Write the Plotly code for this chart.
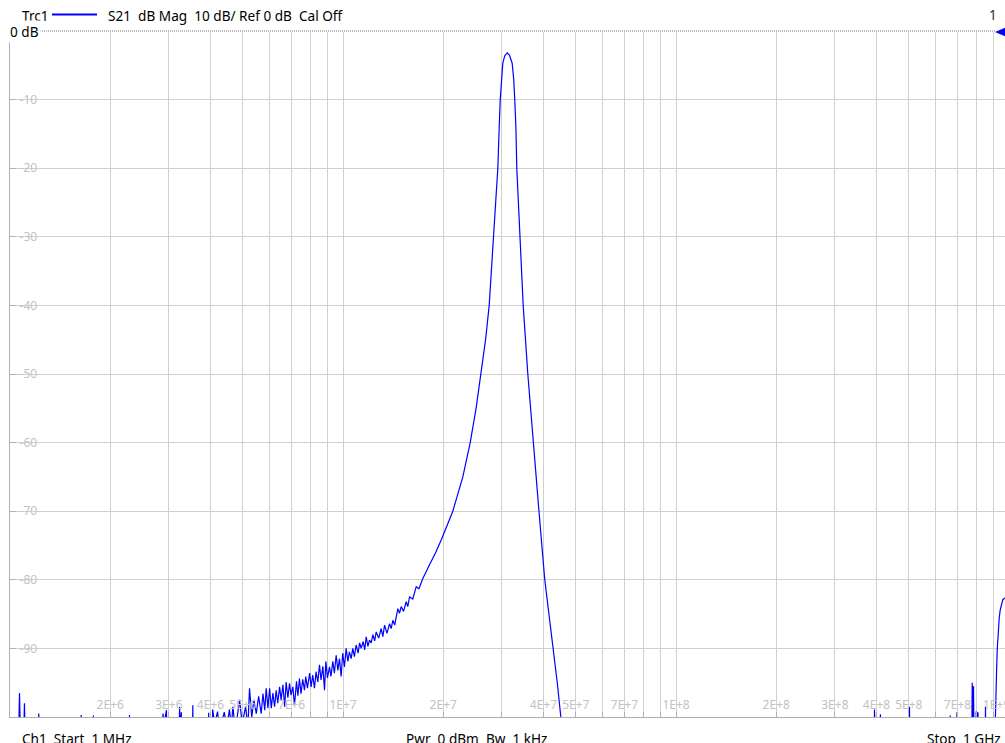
import math
import plotly.graph_objects as go

# ---------------- data ----------------
freq_mhz = [
    1.000, 1.060, 1.068, 1.076, 1.098, 1.105, 1.112, 1.215, 1.220, 1.226,
    1.630, 1.636, 1.642, 1.775, 1.780, 1.786, 2.280, 2.285, 2.291, 2.870,
    2.880, 2.900, 2.950, 2.960, 3.220, 3.230, 3.250, 3.270, 3.285, 3.530,
    3.540, 3.550, 3.940, 3.950, 3.960, 4.050, 4.060, 4.120, 4.200, 4.260,
    4.400, 4.480, 4.560, 4.620, 4.670, 4.750, 4.890, 4.980, 5.100, 5.180,
    5.240, 5.320, 5.400, 5.490, 5.580, 5.680, 5.750, 5.820,
    5.88, 5.95, 6.02, 6.09, 6.16, 6.23, 6.30, 6.37, 6.45, 6.52,
    6.60, 6.68, 6.75, 6.83, 6.91, 6.98, 7.07, 7.15, 7.25, 7.32,
    7.40, 7.48, 7.57, 7.66, 7.73, 7.82, 7.94, 8.02, 8.11, 8.21,
    8.30, 8.40, 8.50, 8.59, 8.70, 8.80, 8.88, 8.98, 9.11, 9.20,
    9.32, 9.42, 9.54, 9.65, 9.76, 9.87, 9.98, 10.10, 10.22, 10.34,
    10.45, 10.58, 10.70, 10.82, 10.95, 11.10, 11.22, 11.34, 11.50, 11.62,
    11.74, 11.88, 12.01, 12.15, 12.30, 12.45, 12.58, 12.80, 13.02, 13.17,
    13.33, 13.55, 13.80, 13.95, 14.12, 14.30, 14.45, 14.61, 14.78, 14.95,
    15.20, 15.48, 15.65, 15.84, 16.20, 16.59, 16.90, 17.37, 18.19, 19.00,
    19.72, 20.50, 21.37, 22.90, 24.10, 25.10, 26.00, 26.80, 27.48, 28.38,
    29.17, 29.45, 29.65, 30.19, 30.60, 31.12, 31.60, 32.21, 32.55, 32.80,
    33.05, 33.26, 33.96, 34.76, 35.89, 37.25, 38.77, 40.36, 42.86, 44.00,
    45.10, 45.60,
    393.0, 394.6, 396.0, 410.0, 411.0, 412.5, 501.0, 502.5, 504.0, 664.0,
    666.0, 668.0, 696.0, 698.0, 700.0, 773.0, 775.4, 778.5, 782.4, 785.0,
    795.0, 797.0, 800.0, 803.0, 807.0, 809.0, 848.0, 850.0, 852.0, 906.0,
    909.0, 912.0, 915.5, 918.0, 921.8, 925.0, 930.1, 935.0, 941.1, 950.0,
    958.1, 969.3, 1000.0,
]

s21_db = [
    -104, -104, -96.5, -104, -104, -98.0, -104, -104, -99.5, -104,
    -104, -99.7, -104, -104, -99.8, -104, -104, -99.7, -104, -104,
    -99.5, -101, -99.0, -104, -104, -98.5, -102, -99.3, -104, -104,
    -98.3, -104, -104, -99.4, -104, -104, -98.9, -101, -99.2, -102,
    -99.3, -101.5, -98.9, -101.5, -98.5, -102, -97.5, -101, -98.5, -101.5,
    -95.8, -100, -97.5, -99.5, -97.0, -99.5, -96.6, -99.0,
    -95.8, -98.7, -95.8, -98.7, -96.5, -98.5, -96.1, -98.0, -95.6, -97.5,
    -95.3, -98.5, -94.9, -97.2, -95.1, -96.8, -95.6, -98.3, -94.8, -96.9,
    -94.4, -96.6, -94.5, -96.1, -94.1, -95.8, -93.6, -95.6, -93.9, -95.8,
    -93.4, -94.9, -92.4, -94.6, -92.6, -96.1, -91.9, -94.3, -92.7, -94.1,
    -91.9, -93.6, -91.0, -93.2, -91.5, -94.1, -90.7, -92.7, -90.0, -91.9,
    -90.5, -91.5, -90.0, -91.2, -89.5, -90.7, -89.2, -90.0, -89.0, -90.2,
    -88.3, -89.7, -88.8, -89.2, -88.0, -88.9, -87.6, -88.5, -87.1, -88.3,
    -86.6, -87.8, -86.4, -87.1, -85.9, -86.6, -85.2, -84.2, -84.9, -83.9,
    -84.6, -83.2, -83.9, -82.5, -82.8, -81.0, -81.3, -79.8, -77.8, -76.0,
    -74.2, -72.3, -70.0, -65.0, -60.0, -55.0, -50.0, -45.0, -40.0, -30.0,
    -20.0, -14.0, -10.1, -4.7, -3.6, -3.2, -3.5, -4.7, -7.0, -10.1,
    -14.0, -20.0, -30.0, -40.0, -50.0, -60.0, -70.0, -80.0, -90.0, -95.0,
    -100.0, -104,
    -104, -98.9, -104, -104, -99.6, -104, -104, -98.5, -104, -104,
    -99.8, -104, -104, -99.3, -104, -104, -95.0, -100.5, -95.5, -104,
    -104, -99.2, -101, -99.5, -99.3, -104, -104, -98.5, -104, -104,
    -100.0, -99.0, -96.5, -93.0, -90.2, -88.5, -86.8, -85.5, -84.4, -83.5,
    -82.9, -82.7, -82.3,
]

x_tick_hz = [
    1e6, 2e6, 3e6, 4e6, 5e6, 6e6, 7e6, 8e6, 9e6,
    1e7, 2e7, 3e7, 4e7, 5e7, 6e7, 7e7, 8e7, 9e7,
    1e8, 2e8, 3e8, 4e8, 5e8, 6e8, 7e8, 8e8, 9e8,
]
x_tick_text = [
    "", "2E+6", "3E+6", "4E+6", "5E+6", "", "7E+6", "", "",
    "1E+7", "2E+7", "", "4E+7", "5E+7", "", "7E+7", "", "",
    "1E+8", "2E+8", "3E+8", "4E+8", "5E+8", "", "7E+8", "", "",
]
x_last_label = "1E+9"
y_tick_db = [0, -10, -20, -30, -40, -50, -60, -70, -80, -90, -100]
y_tick_text = ["", "-10", "-20", "-30", "-40", "-50", "-60", "-70", "-80", "-90", "-100"]

header_trace = "Trc1"
header_text = "S21\u00a0\u00a0dB Mag\u00a0\u00a010 dB/ Ref 0 dB\u00a0\u00a0Cal Off"
footer_left = "Ch1\u00a0\u00a0Start\u00a0\u00a01 MHz"
footer_mid = "Pwr\u00a0\u00a00 dBm\u00a0\u00a0Bw\u00a0\u00a01 kHz"
footer_right = "Stop\u00a0\u00a01 GHz"

# ---------------- layout geometry ----------------
W, H = 1005, 743
ML, MR, MT, MB = 10, 0, 31, 26
PW = W - ML - MR
PH = H - MT - MB
PX_PER_DECADE = 333.0
X_RANGE = [6.0, 6.0 + PW / PX_PER_DECADE]

def px_x(px):
    return (px - ML) / PW

def px_y(py):
    return (H - MB - py) / PH

def log_to_paper(v):
    return (math.log10(v) - X_RANGE[0]) / (X_RANGE[1] - X_RANGE[0])

TRACE_BLUE = "#0000ff"
GRID = "#d0d0d0"
LABEL_GREY = "#c2c2c2"
FONT = "Noto Sans"
HDR = 13.6

fig = go.Figure()
fig.add_trace(go.Scatter(
    x=[f * 1e6 for f in freq_mhz], y=s21_db, mode="lines",
    line=dict(color=TRACE_BLUE, width=1.2), hoverinfo="skip",
))

shapes = []
# white patches behind tick labels so the grid looks interrupted
for v, t in zip(x_tick_hz, x_tick_text):
    if t:
        cx = log_to_paper(v)
        shapes.append(dict(type="rect", xref="paper", yref="paper", layer="between",
                           x0=cx - 15 / PW, x1=cx + 15 / PW,
                           y0=px_y(712), y1=px_y(697),
                           fillcolor="white", line=dict(width=0)))
for v, t in zip(y_tick_db, y_tick_text):
    if t:
        cy = (v + 100) / 100
        shapes.append(dict(type="rect", xref="paper", yref="paper", layer="between",
                           x0=px_x(11), x1=px_x(37),
                           y0=cy - 7 / PH, y1=cy + 7 / PH,
                           fillcolor="white", line=dict(width=0)))
# reference line at 0 dB (dotted)
shapes.append(dict(type="line", xref="paper", yref="paper", x0=0, x1=1, y0=1, y1=1,
                   line=dict(color="white", width=2)))
shapes.append(dict(type="line", xref="paper", yref="paper", x0=0, x1=px_x(995), y0=1, y1=1,
                   line=dict(color="#7a7a7a", width=1, dash="1px,1px")))
# reference marker triangle (paper coordinates, not clipped)
tri = "M{a},{b} L{c},{d} L{c},{e} Z".format(
    a=px_x(995), b=px_y(32), c=px_x(1010), d=px_y(25.5), e=px_y(38.5))
shapes.append(dict(type="path", xref="paper", yref="paper", path=tri,
                   fillcolor=TRACE_BLUE, line=dict(width=0)))
# legend line in header
shapes.append(dict(type="line", xref="paper", yref="paper",
                   x0=px_x(52), x1=px_x(97), y0=px_y(14.5), y1=px_y(14.5),
                   line=dict(color=TRACE_BLUE, width=2)))

annotations = [
    dict(text=header_trace, xref="paper", yref="paper", x=px_x(20), y=px_y(15),
         xanchor="left", yanchor="middle", showarrow=False,
         font=dict(family=FONT, size=HDR, color="#000")),
    dict(text=header_text, xref="paper", yref="paper", x=px_x(106), y=px_y(15),
         xanchor="left", yanchor="middle", showarrow=False,
         font=dict(family=FONT, size=HDR, color="#000")),
    dict(text="1", xref="paper", yref="paper", x=px_x(993), y=px_y(14),
         xanchor="center", yanchor="middle", showarrow=False,
         font=dict(family=FONT, size=HDR, color="#3a2a1a")),
    dict(text="0 dB", xref="paper", yref="paper", x=px_x(8), y=1,
         xanchor="left", yanchor="middle", showarrow=False, bgcolor="white",
         font=dict(family=FONT, size=HDR, color="#000")),
    dict(text=x_last_label, xref="paper", yref="paper", x=px_x(1012), y=px_y(704),
         xanchor="right", yanchor="middle", showarrow=False,
         font=dict(family=FONT, size=12, color=LABEL_GREY)),
    dict(text=footer_left, xref="paper", yref="paper", x=px_x(20), y=px_y(738),
         xanchor="left", yanchor="middle", showarrow=False,
         font=dict(family=FONT, size=HDR, color="#000")),
    dict(text=footer_mid, xref="paper", yref="paper", x=px_x(404), y=px_y(738),
         xanchor="left", yanchor="middle", showarrow=False,
         font=dict(family=FONT, size=HDR, color="#000")),
    dict(text=footer_right, xref="paper", yref="paper", x=px_x(925), y=px_y(738),
         xanchor="left", yanchor="middle", showarrow=False,
         font=dict(family=FONT, size=HDR, color="#000")),
]

fig.update_layout(
    width=W, height=H,
    margin=dict(l=ML, r=MR, t=MT, b=MB, pad=0),
    paper_bgcolor="white", plot_bgcolor="white",
    showlegend=False,
    font=dict(family=FONT, size=12, color="#000"),
    shapes=shapes, annotations=annotations,
    xaxis=dict(type="log", range=X_RANGE, tickvals=x_tick_hz, ticktext=x_tick_text,
               ticks="inside", ticklen=5, tickcolor="#b0b0b0", ticklabelposition="inside",
               tickfont=dict(family=FONT, size=12, color=LABEL_GREY),
               showgrid=True, gridcolor=GRID, gridwidth=1,
               showline=True, linecolor="#b0b0b0", linewidth=1, zeroline=False,
               fixedrange=True),
    yaxis=dict(range=[-100, 0], tickvals=y_tick_db, ticktext=y_tick_text,
               ticks="inside", ticklen=6, tickcolor="#b0b0b0", ticklabelposition="inside",
               ticklabelstandoff=3,
               tickfont=dict(family=FONT, size=12, color=LABEL_GREY),
               showgrid=True, gridcolor=GRID, gridwidth=1,
               showline=True, linecolor="#b0b0b0", linewidth=1, zeroline=False,
               fixedrange=True),
)

fig.write_html(
    "out.html",
    config={"displayModeBar": False},
    post_script="document.body.style.margin='0';document.body.style.overflow='hidden';",
)
